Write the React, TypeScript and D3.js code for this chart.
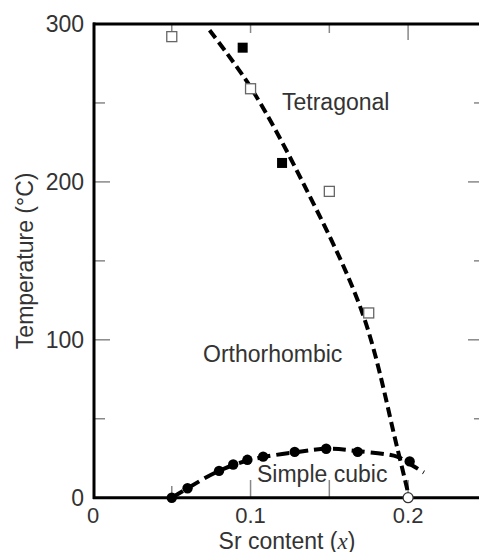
import React from "react";
import * as d3 from "d3";

const openSqX = [0.05, 0.1, 0.15, 0.175];
const openSqT = [292, 259, 194, 117];
const filledSqX = [0.095, 0.12];
const filledSqT = [285, 212];
const circX = [0.05, 0.06, 0.08, 0.089, 0.098, 0.108, 0.128, 0.148, 0.168, 0.201];
const circT = [0, 6, 17, 21, 24, 26, 29, 31, 29, 23];
const openCircX = [0.2];
const openCircT = [0];
const upperX = [0.074, 0.1, 0.133, 0.171, 0.193, 0.2];
const upperT = [296, 260, 200, 117, 32, 3];
const lowerX = [0.05, 0.06, 0.08, 0.1, 0.13, 0.15, 0.168, 0.193, 0.2, 0.21];
const lowerT = [0, 6, 17, 24, 29, 31, 29.5, 26, 22, 16];
const yMajor = [0, 100, 200, 300];
const yMinor = [50, 150, 250];
const xLabels = [0, 0.1, 0.2];
const xTicks = [0.05, 0.1, 0.15, 0.2];

export default function App() {
  const x = d3.scaleLinear().domain([0, 0.245]).range([93, 479]);
  const y = d3.scaleLinear().domain([0, 300]).range([497.7, 24]);
  const line = d3
    .line<[number, number]>()
    .x((d) => x(d[0]))
    .y((d) => y(d[1]))
    .curve(d3.curveCatmullRom);
  const upper = upperX.map((v, i) => [v, upperT[i]] as [number, number]);
  const lower = lowerX.map((v, i) => [v, lowerT[i]] as [number, number]);
  const font = "Liberation Sans, Arial, Helvetica, sans-serif";
  const tc = "#333";
  return (
    <svg
      width={479}
      height={552}
      style={{ position: "absolute", left: 0, top: 0, background: "#fff" }}
      fontFamily={font}
    >
      {/* ticks */}
      {yMajor.map((t) => (
        <g key={"ym" + t}>
          <line x1={93} x2={110} y1={y(t)} y2={y(t)} stroke="#888" strokeWidth={1.5} />
          <line x1={468} x2={479} y1={y(t)} y2={y(t)} stroke="#888" strokeWidth={1.5} />
        </g>
      ))}
      {yMinor.map((t) => (
        <g key={"yn" + t}>
          <line x1={93} x2={105} y1={y(t)} y2={y(t)} stroke="#888" strokeWidth={1.5} />
          <line x1={474} x2={479} y1={y(t)} y2={y(t)} stroke="#888" strokeWidth={1.5} />
        </g>
      ))}
      {xTicks.map((t) => (
        <g key={"xt" + t}>
          <line x1={x(t)} x2={x(t)} y1={497} y2={t === 0.05 ? 486 : 480} stroke="#888" strokeWidth={1.5} />
          <line x1={x(t)} x2={x(t)} y1={24} y2={t === 0.2 ? 40 : 33} stroke="#888" strokeWidth={1.5} />
        </g>
      ))}
      {/* frame */}
      <line x1={93} x2={479} y1={24} y2={24} stroke="#000" strokeWidth={3} />
      <line x1={93} x2={479} y1={497.7} y2={497.7} stroke="#000" strokeWidth={3} />
      <line x1={94} x2={94} y1={22.5} y2={499} stroke="#000" strokeWidth={3} />
      {/* tick labels */}
      {yMajor.map((t) => (
        <text key={"yl" + t} x={84} y={y(t) + 8.3} textAnchor="end" fontSize={23} fill={tc}>
          {t}
        </text>
      ))}
      {xLabels.map((t) => (
        <text key={"xl" + t} x={x(t)} y={523} textAnchor="middle" fontSize={22} fill={tc}>
          {t === 0 ? "0" : t.toFixed(1)}
        </text>
      ))}
      {/* axis titles */}
      <text x={287} y={548.5} textAnchor="middle" fontSize={23} fill={tc}>
        Sr content (
        <tspan fontFamily="Liberation Serif, Times New Roman, serif" fontStyle="italic">
          x
        </tspan>
        )
      </text>
      <text
        transform={`translate(33,${(24 + 497.7) / 2}) rotate(-90)`}
        textAnchor="middle"
        fontSize={23}
        fill={tc}
      >
        Temperature (°C)
      </text>
      {/* phase labels */}
      <text x={282} y={110} fontSize={23} fill={tc}>
        Tetragonal
      </text>
      <text x={203} y={362} fontSize={23} fill={tc}>
        Orthorhombic
      </text>
      <text x={257} y={482} fontSize={23} fill={tc}>
        Simple cubic
      </text>
      {/* boundaries */}
      <path d={line(upper) || ""} fill="none" stroke="#000" strokeWidth={4} strokeDasharray="10,5" />
      <path d={line(lower) || ""} fill="none" stroke="#000" strokeWidth={4} strokeDasharray="13,6" />
      {/* markers */}
      {openSqX.map((v, i) => (
        <rect
          key={"os" + i}
          x={x(v) - 5}
          y={y(openSqT[i]) - 5}
          width={10}
          height={10}
          fill="#fff"
          stroke="#666"
          strokeWidth={1.3}
        />
      ))}
      {filledSqX.map((v, i) => (
        <rect key={"fs" + i} x={x(v) - 5} y={y(filledSqT[i]) - 5} width={10} height={10} fill="#000" />
      ))}
      {circX.map((v, i) => (
        <circle key={"c" + i} cx={x(v)} cy={y(circT[i])} r={5.2} fill="#000" />
      ))}
      {openCircX.map((v, i) => (
        <circle key={"oc" + i} cx={x(v)} cy={y(openCircT[i])} r={5} fill="#fff" stroke="#333" strokeWidth={1.2} />
      ))}
    </svg>
  );
}
